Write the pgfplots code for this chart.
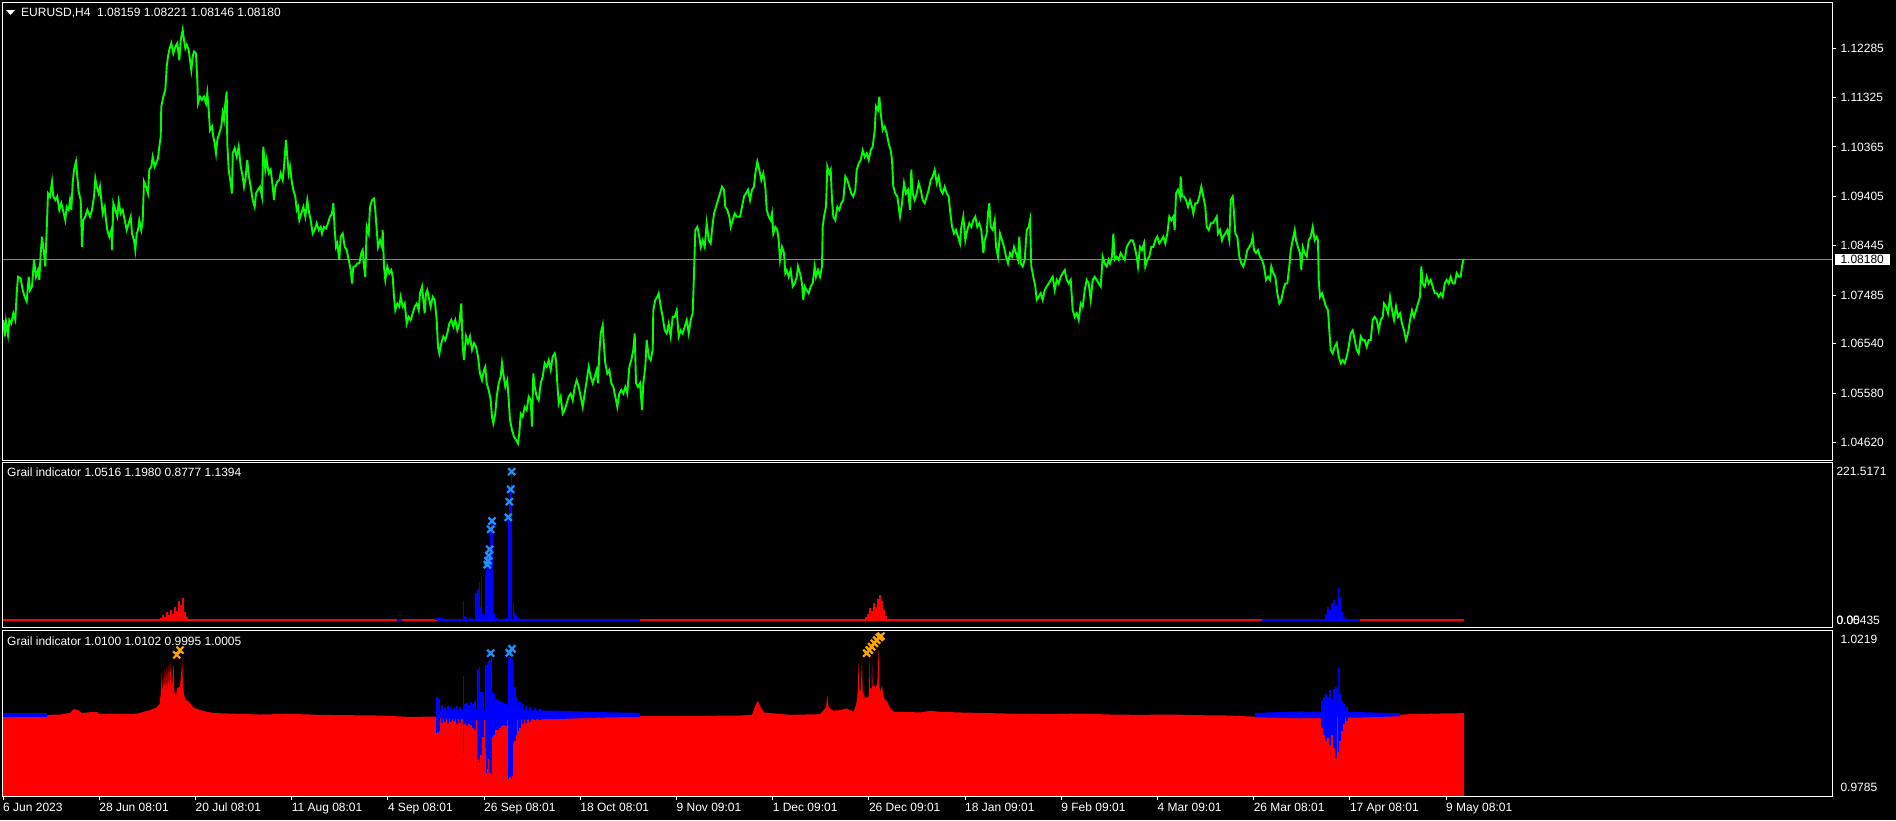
\documentclass[border=0pt]{standalone}
\usepackage{pgfplots}
\pgfplotsset{compat=1.18}
\usepackage{fontspec}
\setmainfont{Liberation Sans}
\definecolor{mtgreen}{RGB}{0,255,0}
\definecolor{mtred}{RGB}{255,0,0}
\definecolor{mtblue}{RGB}{0,0,255}
\definecolor{dodger}{RGB}{30,144,255}
\definecolor{mtorange}{RGB}{255,165,0}
\definecolor{slate}{RGB}{119,136,153}
\pgfplotsset{
  mtaxis/.style={
    scale only axis, width=1829.6pt, xmin=2.7, xmax=1832.3,
    axis background/.style={fill=black},
    axis line style={draw=white, line width=1pt},
    xtick=\empty, ytick pos=right, yticklabel pos=right,
    tick align=outside, scaled y ticks=false, scaled x ticks=false,
    tick style={white, line width=1pt},
    ticklabel style={text=white, font=\fontsize{12}{14}\selectfont},
    yticklabel style={anchor=west, inner sep=0pt, xshift=4pt},
    axis on top,
  },
}
\begin{document}
\begin{tikzpicture}
\fill[black] (0pt,0pt) rectangle (1896pt,-820pt);
\useasboundingbox (0pt,0pt) rectangle (1896pt,-820pt);

% ---------------- price panel ----------------
\begin{axis}[mtaxis, at={(2.7pt,-2.3pt)}, anchor=north west, height=458.4pt,
  ymin=1.04265, ymax=1.13175, major tick length=4pt,
  ytick={1.0462,1.0558,1.0654,1.07485,1.08445,1.09405,1.10365,1.11325,1.12285},
  yticklabels={1.04620,1.05580,1.06540,1.07485,1.08445,1.09405,1.10365,1.11325,1.12285},
  extra y ticks={1.0818}, extra y tick labels={1.08180},
  extra y tick style={major tick length=0pt, yticklabel style={fill=white, text=black, inner xsep=6pt, inner ysep=1.5pt, xshift=-2pt}},
]
\addplot[slate, line width=1pt] coordinates {(2.7,1.0818) (1832.3,1.0818)};
\addplot[mtgreen, line width=1.9pt] table {
x y
3.3 1.0700
4.7 1.0668
6 1.0697
8 1.0671
9.3 1.0700
11.3 1.0693
13.3 1.0713
15.3 1.0700
16.7 1.0752
18 1.0784
20.7 1.0781
22.7 1.0758
24.7 1.0745
26.7 1.0736
28.7 1.0784
30 1.0758
32 1.0765
34 1.0817
36 1.0784
38 1.0797
39.3 1.0778
40.7 1.0830
42 1.0862
44 1.0830
45.3 1.0804
46.7 1.0875
48 1.0946
50 1.0940
52 1.0969
53.3 1.0940
55.3 1.0933
57.3 1.0940
59.3 1.0914
61.3 1.0927
63.3 1.0911
65.3 1.0894
66.7 1.0920
68.7 1.0914
70 1.0933
71.3 1.0914
72.7 1.0966
74 1.0992
76 1.1008
77.3 1.0979
78.7 1.0949
80.7 1.0933
82 1.0842
83.3 1.0894
85.3 1.0901
87.3 1.0914
90 1.0901
92 1.0914
94 1.0940
95.3 1.0975
96.7 1.0959
98.7 1.0946
100 1.0959
101.3 1.0933
102.7 1.0907
104.7 1.0920
106 1.0894
107.3 1.0875
109.3 1.0862
111.3 1.0875
112 1.0836
113.3 1.0927
115.3 1.0914
117.3 1.0901
118.7 1.0930
120.7 1.0907
122.7 1.0914
124.7 1.0894
126.7 1.0875
128.7 1.0888
130.7 1.0901
132 1.0868
134 1.0855
135.3 1.0836
136.7 1.0868
138 1.0875
139.3 1.0894
141.3 1.0875
142.7 1.0894
144 1.0969
146 1.0959
148 1.0946
149.3 1.0992
151.3 1.0998
152.7 1.1017
154.7 1.0998
156 1.1004
158 1.1014
159.3 1.1037
160.7 1.1056
161.3 1.1115
163.3 1.1134
165.3 1.1147
166.7 1.1192
168 1.1212
169.3 1.1225
171.3 1.1238
173.3 1.1218
175.3 1.1231
177.3 1.1238
179.3 1.1205
180.7 1.1244
182.7 1.1264
184 1.1244
185.3 1.1228
186.7 1.1235
188.7 1.1225
190 1.1205
191.3 1.1186
192.7 1.1212
194 1.1222
196 1.1218
197.3 1.1166
198 1.1121
200 1.1134
202 1.1128
204 1.1134
206 1.1121
207.3 1.1141
208.7 1.1108
210 1.1069
212 1.1076
213.3 1.1056
214.7 1.1043
216 1.1024
217.3 1.1050
219.3 1.1063
221.3 1.1076
222.7 1.1102
224 1.1089
225.3 1.1121
226.7 1.1144
227.3 1.1043
228.7 1.0992
230.7 1.0966
232 1.0946
232.7 1.1024
234.7 1.1034
236.7 1.1017
238.7 1.1037
240.7 1.0998
242.7 1.0979
244 1.0959
245.3 1.0972
247.3 1.1011
248.7 1.0982
250.7 1.0959
252.7 1.0933
254.7 1.0920
256 1.0946
258 1.0953
260 1.0959
262 1.0940
263.3 1.1037
265.3 1.0992
266.7 1.1011
268.7 1.0985
270.7 1.0992
272.7 1.0959
274 1.0933
275.3 1.0959
277.3 1.0969
279.3 1.0972
280.7 1.0985
282.7 1.0972
284 1.0998
286 1.1050
287.3 1.1017
288.7 1.0985
290 1.0998
292 1.0966
293.3 1.0953
295.3 1.0940
296.7 1.0914
298 1.0920
299.3 1.0894
301.3 1.0907
303.3 1.0920
305.3 1.0901
307.3 1.0933
309.3 1.0907
310.7 1.0894
312.7 1.0868
314.7 1.0875
316.7 1.0888
318.7 1.0875
320.7 1.0881
322 1.0868
324 1.0881
326 1.0878
328 1.0888
330 1.0901
332 1.0907
333.3 1.0927
334.7 1.0875
336 1.0842
337.3 1.0849
339.3 1.0817
340.7 1.0862
342.7 1.0868
344.7 1.0842
346.7 1.0836
348.7 1.0817
350.7 1.0797
352 1.0771
353.3 1.0804
355.3 1.0804
357.3 1.0810
359.3 1.0810
361.3 1.0830
362.7 1.0836
364 1.0804
365.3 1.0784
366.7 1.0881
368.7 1.0868
370 1.0920
372 1.0933
374 1.0936
375.3 1.0914
376.7 1.0875
378 1.0842
380 1.0855
382 1.0842
382.7 1.0875
384 1.0804
385.3 1.0778
387.3 1.0804
389.3 1.0791
391.3 1.0797
392.7 1.0784
394 1.0745
395.3 1.0719
397.3 1.0732
399.3 1.0726
400.7 1.0745
402.7 1.0726
404.7 1.0732
406.7 1.0693
408.7 1.0706
410.7 1.0700
412.7 1.0713
414.7 1.0726
416.7 1.0732
418.7 1.0719
420 1.0752
422 1.0765
423.3 1.0739
424.7 1.0713
426 1.0752
427.3 1.0758
429.3 1.0739
430.7 1.0726
432.7 1.0745
434.7 1.0739
436.7 1.0700
438 1.0648
439.3 1.0635
441.3 1.0655
443.3 1.0668
445.3 1.0661
447.3 1.0674
449.3 1.0693
451.3 1.0700
453.3 1.0687
455.3 1.0700
457.3 1.0680
459.3 1.0693
461.3 1.0732
462.7 1.0648
464 1.0622
466 1.0668
468 1.0655
470 1.0668
472 1.0642
474 1.0655
476 1.0648
478 1.0629
480 1.0596
482 1.0583
484 1.0603
485.3 1.0609
486.7 1.0577
488.7 1.0564
490.7 1.0544
492 1.0512
493.3 1.0499
495.3 1.0518
496.7 1.0551
498.7 1.0577
500.7 1.0590
502 1.0616
503.3 1.0596
505.3 1.0570
507.3 1.0583
508.7 1.0544
510 1.0506
512 1.0486
514 1.0473
516 1.0467
518 1.0460
519.3 1.0480
520.7 1.0518
522.7 1.0512
524.7 1.0531
526.7 1.0525
528.7 1.0551
530.7 1.0544
532 1.0493
533.3 1.0596
534.7 1.0570
536.7 1.0551
538.7 1.0544
540.7 1.0577
542.7 1.0590
544.7 1.0616
546.7 1.0609
548.7 1.0622
550.7 1.0603
552.7 1.0629
554.7 1.0635
556 1.0622
557.3 1.0577
558.7 1.0538
560.7 1.0551
562.7 1.0518
564.7 1.0525
566.7 1.0538
568.7 1.0551
570.7 1.0557
572.7 1.0544
574.7 1.0570
576.7 1.0583
578.7 1.0570
580.7 1.0551
582.7 1.0531
584.7 1.0557
586.7 1.0583
588.7 1.0609
590.7 1.0590
592.7 1.0577
594.7 1.0590
596.7 1.0603
598 1.0577
599.3 1.0635
600.7 1.0674
602.7 1.0690
604 1.0648
605.3 1.0616
607.3 1.0596
609.3 1.0603
611.3 1.0577
613.3 1.0570
615.3 1.0551
617.3 1.0531
619.3 1.0557
621.3 1.0564
623.3 1.0557
625.3 1.0570
627.3 1.0557
629.3 1.0609
631.3 1.0622
633.3 1.0642
634.7 1.0674
636 1.0577
638 1.0570
640 1.0577
642 1.0525
643.3 1.0577
645.3 1.0609
646.7 1.0661
648.7 1.0629
650.7 1.0622
652.7 1.0642
653.3 1.0719
655.3 1.0739
657.3 1.0745
658.7 1.0752
660.7 1.0726
662.7 1.0706
664.7 1.0680
666.7 1.0674
668.7 1.0693
670.7 1.0668
672.7 1.0706
674.7 1.0706
676.7 1.0719
678.7 1.0668
680.7 1.0680
682.7 1.0674
684.7 1.0687
686.7 1.0700
688.7 1.0674
690.7 1.0700
692.7 1.0713
694 1.0791
695.3 1.0875
697.3 1.0881
699.3 1.0862
700.7 1.0842
702.7 1.0855
704.7 1.0842
706.7 1.0888
708.7 1.0855
710.7 1.0849
712 1.0875
714 1.0907
716 1.0920
718 1.0933
720 1.0946
722 1.0959
724 1.0953
725.3 1.0920
727.3 1.0914
729.3 1.0901
730.7 1.0881
732.7 1.0894
734.7 1.0907
736.7 1.0901
740 1.0901
742 1.0920
744 1.0940
746 1.0946
748 1.0953
750 1.0933
752 1.0953
754 1.0959
755.3 1.0985
757.3 1.1008
759.3 1.0992
761.3 1.0972
763.3 1.0985
765.3 1.0959
766.7 1.0914
768.7 1.0901
770.7 1.0894
772 1.0907
773.3 1.0868
775.3 1.0881
777.3 1.0875
778.7 1.0855
780 1.0817
782 1.0842
784 1.0830
785.3 1.0791
786.7 1.0797
788.7 1.0784
790.7 1.0797
792.7 1.0765
794.7 1.0771
796.7 1.0784
798 1.0804
800 1.0791
802 1.0771
803.3 1.0739
804.7 1.0765
806.7 1.0758
808.7 1.0752
810.7 1.0765
812.7 1.0771
814.7 1.0804
816 1.0784
818 1.0797
820 1.0784
822 1.0804
822.7 1.0881
824 1.0901
826 1.0920
827.3 1.0998
829.3 1.0985
830.7 1.0992
832 1.0933
833.3 1.0901
835.3 1.0894
837.3 1.0920
839.3 1.0914
841.3 1.0927
843.3 1.0933
845.3 1.0979
847.3 1.0972
849.3 1.0959
851.3 1.0946
853.3 1.0940
855.3 1.0953
856.7 1.0992
858.7 1.1004
860.7 1.1011
862.7 1.1030
864.7 1.1017
866.7 1.1024
868.7 1.1011
870.7 1.1030
872.7 1.1037
874.7 1.1069
876 1.1115
878 1.1108
879.3 1.1134
880.7 1.1102
882.7 1.1069
884.7 1.1076
886.7 1.1063
888.7 1.1043
890.7 1.1030
892 1.1011
893.3 1.0959
895.3 1.0946
897.3 1.0940
898.7 1.0920
900 1.0901
902 1.0927
904 1.0966
906 1.0946
908 1.0953
910 1.0914
911.3 1.0992
912.7 1.0946
914.7 1.0933
916.7 1.0946
918.7 1.0966
920.7 1.0953
922.7 1.0933
924.7 1.0927
926.7 1.0940
928.7 1.0953
930.7 1.0972
932.7 1.0979
934.7 1.0992
936.7 1.0966
938.7 1.0979
940.7 1.0953
942.7 1.0946
944.7 1.0959
946.7 1.0946
948.7 1.0940
950 1.0914
952 1.0881
954 1.0868
956 1.0875
958 1.0862
960 1.0849
961.3 1.0881
963.3 1.0901
965.3 1.0855
967.3 1.0875
969.3 1.0888
971.3 1.0881
973.3 1.0894
975.3 1.0901
977.3 1.0881
979.3 1.0888
981.3 1.0875
983.3 1.0830
984.7 1.0855
986.7 1.0868
988 1.0907
989.3 1.0927
990.7 1.0881
992.7 1.0875
994.7 1.0894
996 1.0842
998 1.0823
1000 1.0868
1002 1.0855
1004 1.0842
1006 1.0823
1008 1.0810
1010 1.0830
1012 1.0823
1014 1.0842
1016 1.0830
1018 1.0817
1019.3 1.0862
1020.7 1.0810
1022.7 1.0804
1024.7 1.0817
1026.7 1.0875
1028.7 1.0881
1030 1.0894
1031.3 1.0804
1033.3 1.0784
1035.3 1.0765
1036.7 1.0739
1038.7 1.0745
1040.7 1.0752
1042.7 1.0739
1044.7 1.0758
1046.7 1.0765
1048.7 1.0771
1050.7 1.0778
1052.7 1.0784
1054.7 1.0758
1056.7 1.0778
1058.7 1.0771
1060.7 1.0784
1062.7 1.0791
1064.7 1.0797
1066.7 1.0778
1068.7 1.0771
1070.7 1.0778
1072.7 1.0719
1074.7 1.0706
1076.7 1.0713
1078.7 1.0700
1080.7 1.0732
1082.7 1.0726
1084.7 1.0758
1086.7 1.0778
1088.7 1.0771
1090.7 1.0739
1092.7 1.0778
1094.7 1.0784
1096.7 1.0778
1098.7 1.0771
1100.7 1.0765
1102.7 1.0823
1104.7 1.0810
1106.7 1.0804
1108.7 1.0817
1110 1.0810
1112 1.0823
1113.3 1.0868
1114.7 1.0817
1116.7 1.0823
1118.7 1.0817
1120.7 1.0830
1122.7 1.0823
1124.7 1.0817
1126.7 1.0842
1128.7 1.0849
1130.7 1.0855
1132.7 1.0855
1134.7 1.0842
1136.7 1.0823
1138 1.0804
1140 1.0842
1142 1.0836
1144 1.0849
1145.3 1.0804
1147.3 1.0817
1149.3 1.0823
1151.3 1.0842
1153.3 1.0842
1155.3 1.0855
1157.3 1.0862
1159.3 1.0849
1161.3 1.0855
1163.3 1.0862
1165.3 1.0849
1167.3 1.0868
1169.3 1.0901
1171.3 1.0894
1173.3 1.0901
1174.7 1.0875
1176 1.0946
1178 1.0953
1180 1.0940
1180.7 1.0979
1182 1.0940
1184 1.0940
1186 1.0933
1188 1.0920
1190 1.0933
1192 1.0920
1193.3 1.0907
1195.3 1.0927
1197.3 1.0927
1199.3 1.0940
1201.3 1.0959
1203.3 1.0940
1205.3 1.0920
1206.7 1.0881
1208.7 1.0875
1210.7 1.0888
1212.7 1.0888
1214.7 1.0894
1216.7 1.0901
1218 1.0868
1220 1.0875
1222 1.0855
1223.3 1.0862
1225.3 1.0868
1227.3 1.0875
1229.3 1.0855
1230.7 1.0933
1232.7 1.0940
1234 1.0907
1235.3 1.0868
1237.3 1.0862
1239.3 1.0823
1241.3 1.0810
1243.3 1.0804
1245.3 1.0817
1247.3 1.0836
1249.3 1.0842
1251.3 1.0849
1252.7 1.0862
1254 1.0836
1256 1.0830
1258 1.0836
1260 1.0823
1262 1.0817
1264 1.0804
1266 1.0778
1268 1.0784
1270 1.0778
1271.3 1.0804
1273.3 1.0791
1275.3 1.0784
1277.3 1.0752
1279.3 1.0732
1281.3 1.0739
1283.3 1.0758
1285.3 1.0771
1287.3 1.0771
1289.3 1.0804
1290.7 1.0836
1292.7 1.0855
1294.7 1.0875
1296 1.0855
1298 1.0842
1300 1.0830
1301.3 1.0797
1302.7 1.0842
1304.7 1.0830
1306.7 1.0823
1308.7 1.0855
1310.7 1.0862
1312.7 1.0881
1314.7 1.0855
1316.7 1.0862
1318 1.0855
1318.7 1.0778
1320 1.0745
1322 1.0752
1324 1.0739
1326 1.0726
1328 1.0719
1329.3 1.0680
1330.7 1.0642
1332.7 1.0635
1334.7 1.0648
1336.7 1.0655
1338.7 1.0629
1340.7 1.0616
1342.7 1.0622
1344.7 1.0616
1346.7 1.0629
1348.7 1.0648
1350.7 1.0674
1352.7 1.0680
1354.7 1.0661
1356.7 1.0642
1358.7 1.0635
1360.7 1.0668
1362.7 1.0661
1364.7 1.0661
1366.7 1.0648
1368.7 1.0661
1370.7 1.0661
1372.7 1.0700
1374.7 1.0706
1376.7 1.0700
1378.7 1.0680
1380.7 1.0700
1382.7 1.0706
1384 1.0732
1386 1.0726
1388 1.0713
1390 1.0745
1392 1.0719
1394 1.0700
1396 1.0726
1398 1.0706
1400 1.0713
1402 1.0693
1404 1.0680
1406 1.0661
1408 1.0674
1410 1.0700
1412 1.0719
1414 1.0706
1416 1.0719
1418 1.0732
1420 1.0745
1421.3 1.0804
1422.7 1.0771
1424.7 1.0765
1426.7 1.0784
1428.7 1.0771
1430.7 1.0778
1432.7 1.0765
1434.7 1.0752
1436.7 1.0752
1438.7 1.0745
1440.7 1.0752
1442.7 1.0745
1444.7 1.0771
1446.7 1.0778
1448.7 1.0771
1450.7 1.0784
1452.7 1.0771
1454.7 1.0771
1456.7 1.0791
1458.7 1.0784
1460.7 1.0784
1462 1.0804
1463.3 1.0817
1464.3 1.0818
};
\end{axis}

% ---------------- indicator panel 1 ----------------
\begin{axis}[mtaxis, at={(2.7pt,-462.7pt)}, anchor=north west, height=164.6pt,
  ymin=-10.39, ymax=233.8, major tick length=0pt,
  ytick={0.05435,221.5171}, yticklabels={0.05435,221.5171},
  extra y ticks={0}, extra y tick labels={0.00},
]
\addplot[mtred, line width=2pt] coordinates {(2.7,0.5) (1464,0.5)};
\addplot[mtblue, line width=2pt] coordinates {(397,0.5) (402,0.5)};
\addplot[mtblue, line width=2pt] coordinates {(436.7,0.5) (640,0.5)};
\addplot[mtblue, line width=2pt] coordinates {(1262,0.5) (1360,0.5)};
\addplot[mtred, ycomb, line width=1.3pt] coordinates {
(161,4) (163,8) (165,5) (167,12) (169,8) (171,15) (173,10) (175,20) (177,14) (179,28) (181,22) (183,33) (185,12) (187,5)
(866,5) (868,10) (870,18) (872,14) (874,25) (876,20) (878,32) (880,38) (882,28) (884,15) (886,6)
};
\addplot[mtblue, ycomb, line width=1.3pt] coordinates {
(436,3) (438,4) (440,4) (442,3) (446,2) (463.3,28.6) (464.5,6) (466,5) (470,3)
(476,40) (477.3,45) (478.5,47) (479.3,57) (480.5,20) (481.3,65) (482.5,10) (484,8)
(485.3,67) (486.3,75) (487.3,82.5) (488,88.4) (488.7,95.8) (489.7,105.3) (490.7,135) (492,147.3)
(493,12) (494.5,10) (496,4) (500,2) (506,3)
(508.3,152.8) (509.3,176) (510.7,194.4) (511.7,220.5) (513.3,25) (514.5,13) (516,8) (518,3)
(1326,10) (1328,20) (1330,15) (1332,25) (1334,30) (1336,22) (1338.5,48) (1340,35) (1342,12) (1344,5)
};
\addplot[only marks, mark=x, mark size=5pt, dodger, line width=2.2pt] coordinates {
(487.3,82.5) (488,88.4) (488.7,95.8) (489.7,105.3) (490.7,135) (492,147.3)
(508.3,152.8) (509.3,176) (510.7,194.4) (511.7,220.5)
};
\end{axis}

% ---------------- indicator panel 2 ----------------
\begin{axis}[mtaxis, at={(2.7pt,-630.3pt)}, anchor=north west, height=165.7pt,
  ymin=-0.0240, ymax=0.0246, major tick length=4pt,
  ytick={-0.0215,0.0219}, yticklabels={0.9785,1.0219},
  ytick style={draw=none},
  xtick={3,99.2,195.4,291.6,387.8,484,580.2,676.4,772.6,868.8,965,1061.2,1157.4,1253.6,1349.8,1446},
  xticklabels={6 Jun 2023,28 Jun 08:01,20 Jul 08:01,11 Aug 08:01,4 Sep 08:01,26 Sep 08:01,18 Oct 08:01,9 Nov 09:01,1 Dec 09:01,26 Dec 09:01,18 Jan 09:01,9 Feb 09:01,4 Mar 09:01,26 Mar 08:01,17 Apr 08:01,9 May 08:01},
  xtick pos=bottom,
  xticklabel style={anchor=north west, inner sep=0pt, yshift=-3pt},
]
\addplot[fill=mtred, draw=none] coordinates {
(2.7,-0.0240) (2.7,-0.0007) (47,-0.0007) (48,-0.0002) (60,-0.0001) (70,0.0004) (74,0.0015) (78,0.0012) (82,0.0003) (93,0.0007) (97,0.0006) (100,0.0000) (115,0.0001) (130,0.0000) (140,0.0003)
(143.3,0.0007) (150,0.0012) (156.7,0.0020) (159.5,0.0030) (160.5,0.0055) (162,0.0128) (162.7,0.0060) (164.3,0.0132) (165,0.0060) (166.3,0.0139) (167,0.0062) (168.3,0.0146) (169,0.0065) (171,0.0159) (171.7,0.0068) (173.7,0.0149) (174.3,0.0066) (176,0.0055) (177,0.0076) (180,0.0081) (182.3,0.0159) (183,0.0078) (184,0.0060) (185.3,0.0042) (188.7,0.0037) (193.3,0.0020) (200,0.0012) (206.7,0.0007) (215,0.0003)
(240,0.0001) (260,-0.0001) (290,0.0001) (320,-0.0002) (350,-0.0003) (380,-0.0004) (395,-0.0006) (410,-0.0008) (436,-0.0007) (437,-0.0010) (450,-0.0012) (470,-0.0015) (500,-0.0015) (530,-0.0010) (560,-0.0008) (600,-0.0008) (640,-0.0006) (700,-0.0005) (740,-0.0004) (752,-0.0002) (756,0.0030) (758,0.0039) (760,0.0025) (764,0.0005) (790,-0.0002) (820,0.0000)
(826,0.0020) (827.3,0.0056) (828.7,0.0020) (833.3,0.0010) (840,0.0012) (846.7,0.0017) (853.3,0.0007) (856,0.0027) (857.3,0.0047) (858.7,0.0154) (859.3,0.0066) (860.7,0.0071) (862,0.0161) (862.7,0.0066) (865.3,0.0047) (868.7,0.0051) (869.3,0.0169) (870,0.0076) (871.5,0.0076) (872,0.0169) (872.7,0.0081) (874,0.0086) (875.3,0.0076) (877.3,0.0090) (878.7,0.0193) (879.3,0.0081) (880.7,0.0066) (882,0.0086) (883.3,0.0051) (885.3,0.0042) (887.3,0.0037) (889.3,0.0022) (891.3,0.0015) (893.3,0.0007)
(903.3,0.0007) (920,0.0005) (930,0.0010) (940,0.0007) (960,0.0005) (990,0.0003) (1020,0.0001) (1050,0.0000) (1080,0.0002) (1110,-0.0001) (1140,-0.0002) (1170,-0.0001) (1200,-0.0003) (1230,-0.0004) (1260,-0.0008) (1290,-0.0010) (1320,-0.0010) (1350,-0.0008) (1380,-0.0004) (1410,0.0000) (1440,0.0002) (1464,0.0003) (1464,-0.0240)
};
\addplot[fill=mtblue, draw=none] coordinates {(3,0.0004) (47,0.0004) (47,-0.0007) (3,-0.0007)};
\addplot[fill=mtblue, draw=none] coordinates {(436,0.0012) (480,0.0014) (520,0.0012) (560,0.0010) (600,0.0006) (640,0.0004) (640,-0.0008) (600,-0.0010) (560,-0.0014) (520,-0.0016) (480,-0.0016) (436,-0.0012)};
\addplot[fill=mtblue, draw=none] coordinates {(1255,0.0004) (1300,0.0008) (1360,0.0006) (1400,0.0003) (1400,-0.0006) (1360,-0.0010) (1300,-0.0012) (1255,-0.0009)};
\addplot[mtblue, ycomb, line width=1.3pt] coordinates {
(436.5,0.0050) (436.5,-0.0055) (437.5,0.0048) (437.5,-0.0052) (438.5,0.0050) (438.5,-0.0055) (439.5,0.0045) (439.5,-0.0050)
(442,0.0027) (442,-0.0026) (445,0.0022) (445,-0.0022) (448,0.0025) (448,-0.0030) (451,0.0020) (451,-0.0024) (454,0.0018) (454,-0.0020) (457,0.0024) (457,-0.0028) (460,0.0020) (460,-0.0025)
(463.3,0.0112) (463.3,-0.0114) (465,0.0030) (465,-0.0030) (467,0.0033) (467,-0.0035) (469,0.0028) (469,-0.0030) (471,0.0035) (471,-0.0033) (473,0.0030) (473,-0.0040) (475,0.0038) (475,-0.0045)
(477.3,0.0135) (477.3,-0.0134) (478.5,0.0130) (478.5,-0.0130) (479.7,0.0139) (479.7,-0.0144) (481,0.0066) (481,-0.0120) (482.3,0.0066) (482.3,-0.0066) (483.7,0.0060) (483.7,-0.0066)
(485.3,0.0144) (485.3,-0.0100) (486.5,0.0144) (486.5,-0.0173) (487.7,0.0149) (487.7,-0.0160) (489,0.0155) (489,-0.0130) (490,0.0160) (490,-0.0173) (491.3,0.0164) (491.3,-0.0178)
(492.5,0.0066) (492.5,-0.0066) (494,0.0060) (494,-0.0060) (496,0.0045) (496,-0.0046) (498,0.0042) (498,-0.0046) (500,0.0040) (500,-0.0040) (502,0.0035) (502,-0.0035) (504,0.0030) (504,-0.0033) (506,0.0030) (506,-0.0035)
(508.7,0.0169) (508.7,-0.0191) (510,0.0169) (510,-0.0185) (511.3,0.0165) (511.3,-0.0191) (512.5,0.0160) (512.5,-0.0180)
(513.7,0.0081) (513.7,-0.0085) (515,0.0081) (515,-0.0080) (516.7,0.0050) (516.7,-0.0060) (518.5,0.0040) (518.5,-0.0050) (520,0.0035) (520,-0.0040) (523,0.0030) (523,-0.0030) (526,0.0025) (526,-0.0025) (530,0.0020) (530,-0.0022) (535,0.0018) (535,-0.0018) (540,0.0016) (540,-0.0016)
(1322,0.0040) (1322,-0.0040) (1324,0.0050) (1324,-0.0060) (1326,0.0060) (1326,-0.0080) (1328,0.0050) (1328,-0.0070) (1330,0.0070) (1330,-0.0090) (1332,0.0045) (1332,-0.0060) (1334,0.0075) (1334,-0.0100) (1336,0.0080) (1336,-0.0129) (1338.5,0.0134) (1338.5,-0.0110) (1340,0.0060) (1340,-0.0080) (1342,0.0040) (1342,-0.0050) (1344,0.0030) (1344,-0.0030) (1347,0.0020) (1347,-0.0020)
};
\addplot[only marks, mark=x, mark size=5pt, mtorange, line width=2.2pt] coordinates {
(176.7,0.0174) (180,0.0188)
(866.7,0.0179) (869.3,0.0188) (871.7,0.0198) (874.3,0.0208) (876.7,0.0217) (879.3,0.0225) (881,0.0229)
};
\addplot[only marks, mark=x, mark size=5pt, dodger, line width=2.2pt] coordinates {
(490.7,0.0179) (509.3,0.0180) (512,0.0192)
};
\end{axis}

% ---------------- texts ----------------
\fill[white] (6pt,-10pt) -- (15pt,-10pt) -- (10.5pt,-15pt) -- cycle;
\node[anchor=west, inner sep=0pt, text=white, font=\fontsize{12}{14}\selectfont] at (21pt,-12.7pt) {EURUSD,H4\ \ 1.08159 1.08221 1.08146 1.08180};
\node[anchor=west, inner sep=0pt, text=white, font=\fontsize{12}{14}\selectfont] at (7pt,-472.7pt) {Grail indicator 1.0516 1.1980 0.8777 1.1394};
\node[anchor=west, inner sep=0pt, text=white, font=\fontsize{12}{14}\selectfont] at (7pt,-641.5pt) {Grail indicator 1.0100 1.0102 0.9995 1.0005};
\end{tikzpicture}
\end{document}
